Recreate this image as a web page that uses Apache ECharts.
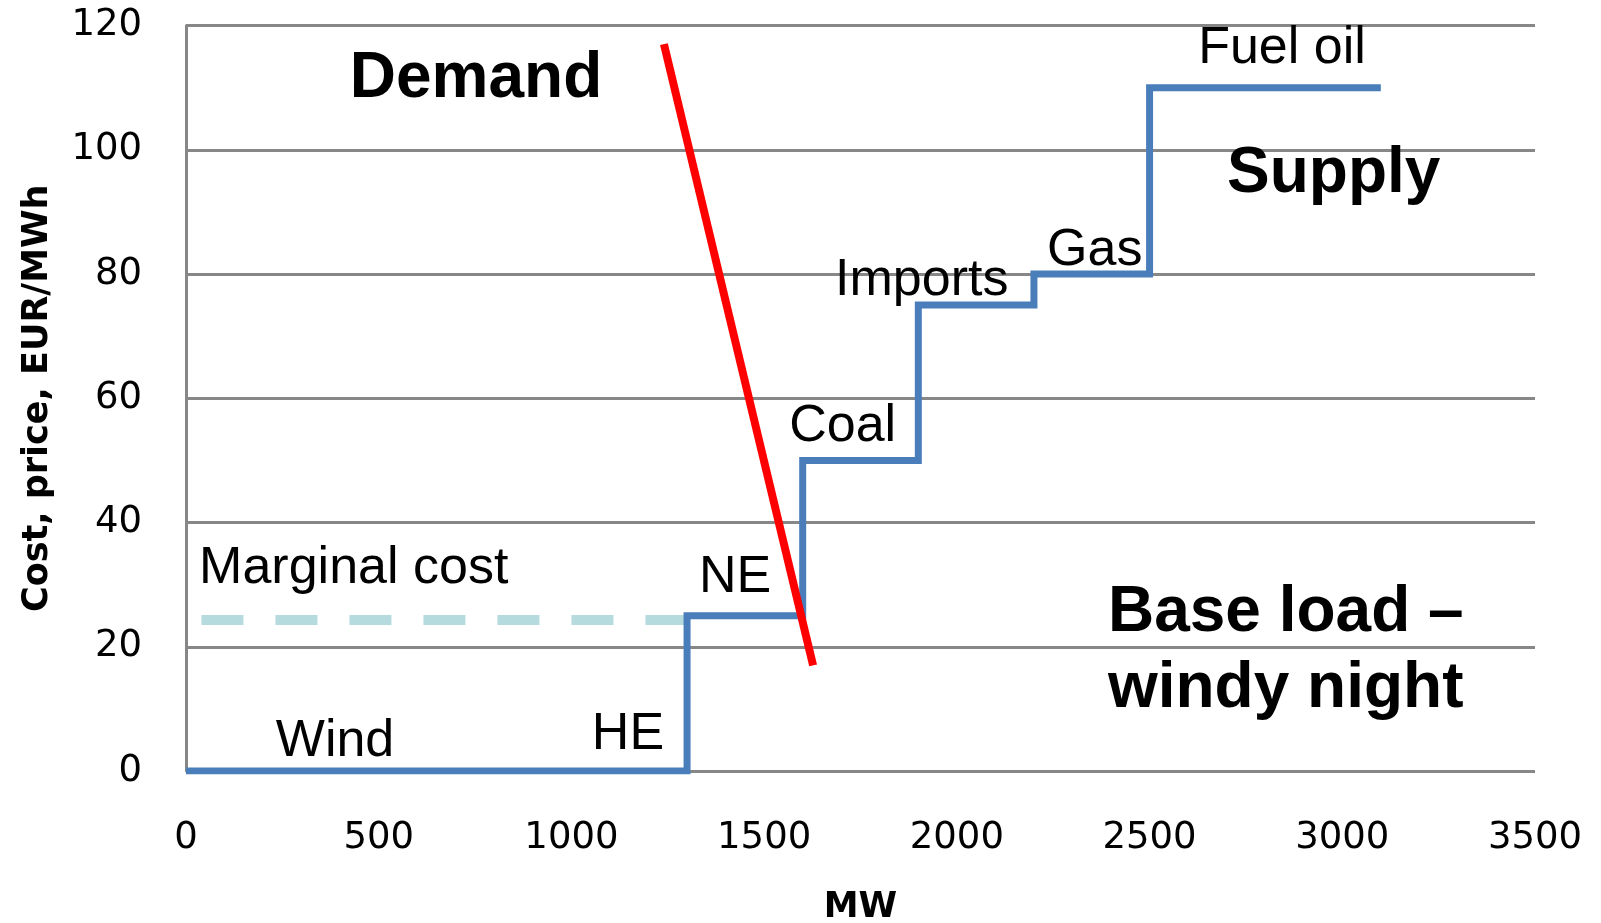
<!DOCTYPE html>
<html>
<head>
<meta charset="utf-8">
<title>Merit order – base load, windy night</title>
<script src="https://cdn.jsdelivr.net/npm/echarts@6/dist/echarts.min.js"></script>
<style>
  html, body { margin: 0; padding: 0; background: #ffffff; }
  #chart { width: 1601px; height: 923px; }
</style>
</head>
<body>
<div id="chart"></div>
<script>
// Supply curve (merit order): cumulative capacity in MW and marginal cost in EUR/MWh
const supplyMW   = [0, 1300, 1300, 1600, 1600, 1900, 1900, 2200, 2200, 2500, 2500, 3100];
const supplyCost = [0, 0,    25,   25,   50,   50,   75,   75,   80,   80,   110,  110];

// Demand curve (two end points)
const demandMW   = [1240, 1627];
const demandCost = [117, 17];

// Marginal cost reference level
const marginalMW   = [40, 1300];
const marginalCost = [24.3, 24.3];

// Axis ticks
const xTicks = [0, 500, 1000, 1500, 2000, 2500, 3000, 3500];
const yTicks = [0, 20, 40, 60, 80, 100, 120];

// Text annotations placed in data coordinates
const noteText = ['Wind', 'HE', 'NE', 'Marginal cost', 'Coal', 'Imports', 'Gas', 'Fuel oil',
                  'Demand', 'Supply', 'Base load \u2013', 'windy night'];
const noteMW   = [233, 1053, 1331, 34, 1565, 1684, 2234, 2626, 425, 2701, 2392, 2392];
const noteCost = [4.7, 5.8, 31.2, 32.5, 55.5, 78.9, 83.8, 116.2, 111.4, 96.0, 25.3, 13.1];
const noteBold = [false, false, false, false, false, false, false, false, true, true, true, true];

const pairs = (xs, ys) => xs.map((x, i) => [x, ys[i]]);

const gridGray = '#878787';
const tickFont = { fontFamily: 'DejaVu Sans', fontSize: 37, color: '#000000', formatter: (v) => String(v) };

const chart = echarts.init(document.getElementById('chart'), null, { renderer: 'canvas' });

chart.setOption({
  backgroundColor: '#ffffff',
  animation: false,
  grid: { left: 186, right: 66, top: 25.5, bottom: 152, containLabel: false, outerBoundsMode: 'none' },
  xAxis: {
    type: 'value',
    min: xTicks[0],
    max: xTicks[xTicks.length - 1],
    interval: 500,
    name: 'MW',
    nameLocation: 'middle',
    nameGap: 119,
    nameTextStyle: { fontFamily: 'DejaVu Sans', fontWeight: 'bold', fontSize: 35, color: '#000000' },
    axisLine: { show: false },
    axisTick: { show: false },
    splitLine: { show: false },
    axisLabel: Object.assign({ margin: 49 }, tickFont)
  },
  yAxis: {
    type: 'value',
    min: yTicks[0],
    max: yTicks[yTicks.length - 1],
    interval: 20,
    name: 'Cost, price, EUR/MWh',
    nameLocation: 'middle',
    nameRotate: 90,
    nameGap: 131,
    nameTextStyle: { fontFamily: 'DejaVu Sans', fontWeight: 'bold', fontSize: 35, color: '#000000' },
    axisLine: { show: true, lineStyle: { color: gridGray, width: 3 } },
    axisTick: { show: false },
    splitLine: { show: true, lineStyle: { color: gridGray, width: 3 } },
    axisLabel: Object.assign({ margin: 44 }, tickFont)
  },
  series: [
    {
      name: 'Marginal cost',
      type: 'line',
      data: pairs(marginalMW, marginalCost),
      symbol: 'none',
      silent: true,
      lineStyle: { color: '#b5dbdf', width: 10, type: [42, 32], cap: 'butt' },
      z: 2
    },
    {
      name: 'Supply',
      type: 'line',
      data: pairs(supplyMW, supplyCost),
      symbol: 'none',
      silent: true,
      lineStyle: { color: '#4a7ebb', width: 7, join: 'miter', cap: 'butt' },
      z: 3
    },
    {
      name: 'Demand',
      type: 'line',
      data: pairs(demandMW, demandCost),
      symbol: 'none',
      silent: true,
      lineStyle: { color: '#ff0000', width: 8, cap: 'butt' },
      z: 4
    },
    {
      name: 'Notes',
      type: 'scatter',
      symbolSize: 0,
      silent: true,
      z: 5,
      itemStyle: { opacity: 1 },
      data: noteText.map((t, i) => ({
        name: t,
        value: [noteMW[i], noteCost[i]],
        label: {
          show: true,
          position: 'inside',
          align: 'left',
          verticalAlign: 'middle',
          formatter: '{b}',
          fontFamily: 'Liberation Sans',
          fontWeight: noteBold[i] ? 'bold' : 'normal',
          fontSize: noteBold[i] ? 64 : 52,
          color: '#000000',
          textBorderWidth: 0
        }
      }))
    }
  ]
});
</script>
</body>
</html>
